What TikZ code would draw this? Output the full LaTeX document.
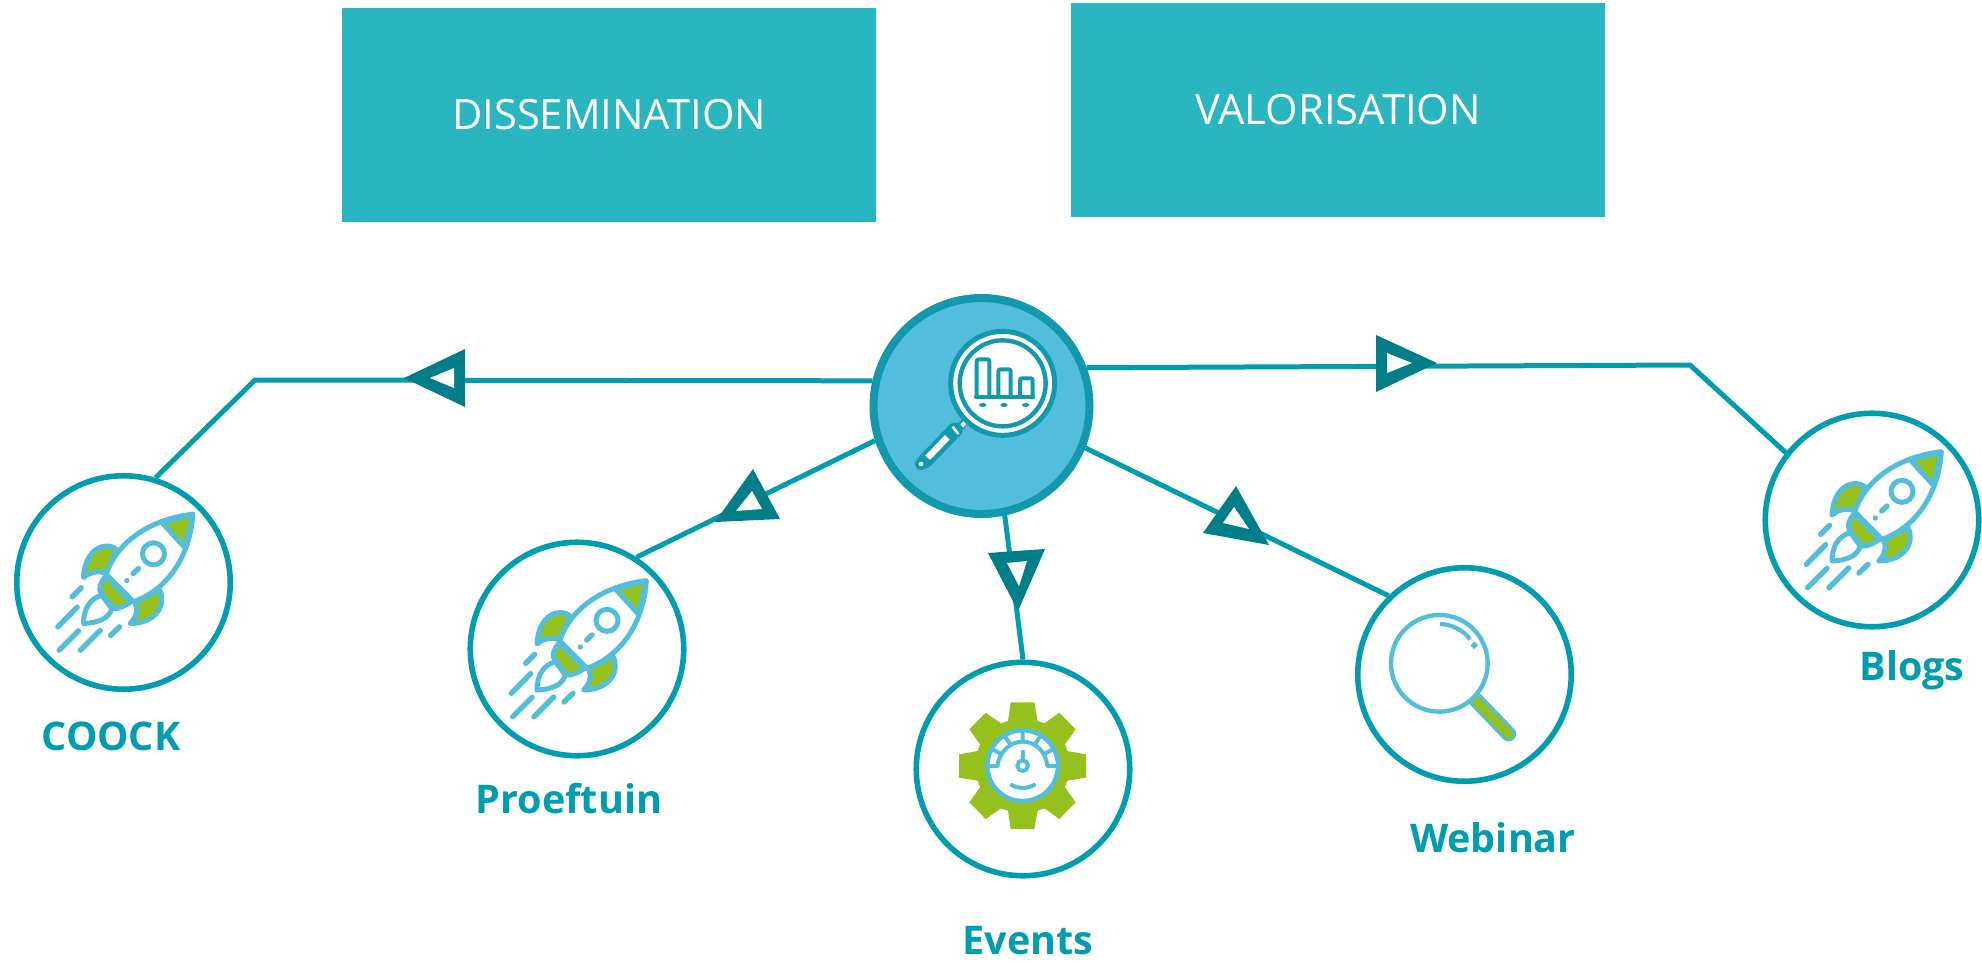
\documentclass[tikz,border=0pt]{standalone}
\usepackage{fontspec}
\setmainfont{Open Sans}
\usetikzlibrary{arrows.meta}
\definecolor{teal1}{HTML}{2AB6C0}
\definecolor{line1}{HTML}{009CAF}
\definecolor{ring}{HTML}{1399AE}
\definecolor{sky}{HTML}{52BEDB}
\definecolor{lime}{HTML}{95C11F}
\definecolor{head}{HTML}{007E8A}
\tikzset{
  x=1pt,y=-1pt,
  topbox/.style={draw=none,fill=teal1,inner sep=0pt,minimum width=534pt,minimum height=214pt},
  toptext/.style={text=white,font=\fontsize{41.7}{46}\selectfont,inner sep=0pt},
  disc/.style={circle,draw=line1,line width=5.6pt,fill=white,minimum size=213.5pt,inner sep=0pt},
  hub/.style={circle,draw=ring,line width=8pt,fill=sky,minimum size=216pt,inner sep=0pt},
  lab/.style={text=line1,font=\fontsize{39.5}{42}\selectfont\bfseries,inner sep=0pt},
  link/.style={draw=line1,line width=5pt},
  tipout/.style={fill=head},
  tipin/.style={fill=white},
  rk/.style={draw=sky,line width=5.4pt,line cap=round,line join=round},
  rkf/.style={draw=sky,fill=lime,line width=5pt,line join=round},
  rkw/.style={draw=sky,fill=white,line width=5pt,line join=round},
  hb/.style={draw=ring,line width=4pt,line join=round,fill=white},
}
\newcommand{\rocket}[2]{%
 \begin{scope}[shift={({#1-123.33},{#2-122.33})},x=0.33333pt,y=-0.33333pt]
  \path[rkf] (350,268) .. controls (320,243) and (255,260) .. (250,352) .. controls (270,335) and (295,330) .. (318,340) -- cycle;
  \path[rkf] (478,390) .. controls (500,430) and (470,490) .. (390,490) .. controls (410,470) and (415,445) .. (403,425) -- cycle;
  \path[rkf] (318,348) -- (393,425) .. controls (375,437) and (355,447) .. (340,445) -- (302,398) .. controls (295,385) and (300,365) .. (318,348) -- cycle;
  \path[rkw] (318,342) .. controls (345,260) and (430,180) .. (578,162) .. controls (570,280) and (510,385) .. (400,425) -- cycle;
  \path[rkf] (486,188) .. controls (515,178) and (545,170) .. (576,164) .. controls (570,200) and (562,232) .. (552,260) -- cycle;
  \path[draw=sky,fill=white,line width=5pt] (460,281) circle[radius=33];
  \fill[sky] (380,361) circle[radius=8];
  \draw[rk,line width=5.4pt] (399,340) -- (415,325);
  \path[rkw] (305,405) .. controls (270,415) and (250,445) .. (250,490) .. controls (290,488) and (325,478) .. (335,445) -- cycle;
  \draw[rk] (216,410) -- (243,383);
  \draw[rk] (173,500) -- (231,441);
  \draw[rk] (177,570) -- (235,512);
  \draw[rk] (241,570) -- (300,511);
  \draw[rk] (331,526) -- (358,500);
 \end{scope}}
\begin{document}
\begin{tikzpicture}
\useasboundingbox (0,0) rectangle (1982,962);
\fill[white] (0,0) rectangle (1982,962);
\node[topbox] (diss) at (608.5,115) {};
\node[topbox] (valo) at (1338,110) {};
\node[toptext] (disst) at (609,115) {DISSEMINATION};
\node[toptext] (valot) at (1338,110) {VALORISATION};

\node[hub] (hub) at (981.5,406) {};
\node[disc] (a) at (123.5,582.5) {};
\node[disc] (b) at (577,649) {};
\node[disc] (c) at (1023,769) {};
\node[disc] (d) at (1464.5,674.5) {};
\node[disc] (e) at (1872,520) {};

\node[lab] (la) at (111,736) {COOCK};
\node[lab] (lb) at (569,799) {Proeftuin};
\node[lab] (lc) at (1028,941) {Events};
\node[lab] (ld) at (1493,838) {Webinar};
\node[lab] (le) at (1912,670) {Blogs};

\coordinate (ka) at (255,380);
\coordinate (ke) at (1690,365);

% connectors
\draw[link] (hub.167) -- (ka) -- (a.73.4);
\draw[link] (hub.20.7) -- (ke) -- (e.142.3);
\draw[link] (hub.198.3) -- (b.57.8);
\draw[link,shorten <=-4pt] (hub.282.3) -- (c.90);
\draw[link] (hub.-22.4) -- (d.134.2);

% arrow heads
\fill[tipout] (404,378) -- (465,349) -- (465,407) -- cycle;
\fill[tipin] (430,378) -- (454,368) -- (454,388) -- cycle;
\fill[tipout] (753,469) -- (780,519) -- (715,522) -- cycle;
\fill[tipin] (752,491) -- (762,509) -- (736,511) -- cycle;
\fill[tipout] (988,553) -- (1045,549) -- (1018,611) -- cycle;
\fill[tipin] (1007,563) -- (1027,561) -- (1019,586) -- cycle;
\fill[tipout] (1236,486) -- (1269,545) -- (1203,533) -- cycle;
\fill[tipin] (1234,507) -- (1249,529) -- (1223,523) -- cycle;
\fill[tipout] (1376,335) -- (1437,363) -- (1376,392) -- cycle;
\fill[tipin] (1387,353) -- (1412,363) -- (1387,373) -- cycle;

% hub icon
\begin{scope}[shift={(860,280)},x=0.33333pt,y=-0.33333pt]
  \draw[ring,line width=15pt,line cap=round] (285,450) -- (195,543);
  \draw[ring,line width=8pt,line cap=round] (335,405) -- (290,450);
  \fill[ring] (183,552) circle[radius=18];
  \fill[white] (183,552) circle[radius=7];
  \draw[white,line width=6.5pt] (262,472) -- (203,533);
  \draw[white,line width=4pt] (320,423) -- (305,438);
  \draw[white,line width=2.5pt] (278,440) -- (295,462);
  \path[draw=ring,line width=5pt,fill=white] (428,310) circle[radius=156];
  \path[draw=ring,line width=4.4pt,fill=white] (428,310) circle[radius=129];
  \path[hb,rounded corners=2pt] (350,350) -- (350,238) -- (388,238) -- (388,350);
  \path[hb,rounded corners=2pt] (415,350) -- (415,268) -- (452,268) -- (452,350);
  \path[hb,rounded corners=2pt] (480,350) -- (480,295) -- (518,295) -- (518,350);
  \draw[ring,line width=4pt,line cap=round] (348,350) -- (520,350);
  \fill[ring] (368,375) ellipse[x radius=11,y radius=6];
  \fill[ring] (432,375) ellipse[x radius=11,y radius=6];
  \fill[ring] (497,375) ellipse[x radius=11,y radius=6];
\end{scope}

\rocket{123.5}{582.5}
\rocket{577}{649}
\rocket{1872}{520}

% gear
\begin{scope}[shift={(910,660)},x=0.33333pt,y=-0.33333pt]
  \fill[lime] (302,127) -- (373,127) -- (383,183) -- (403,190) -- (448,158) -- (497,208) -- (465,253) -- (472,273) -- (528,283) -- (528,353) -- (472,362) -- (465,382) -- (497,427) -- (448,477) -- (403,445) -- (383,452) -- (373,507) -- (302,507) -- (294,452) -- (273,445) -- (227,477) -- (178,427) -- (210,382) -- (203,362) -- (147,353) -- (147,283) -- (203,273) -- (210,253) -- (178,208) -- (227,158) -- (273,190) -- (294,183) -- cycle;
  \path[draw=sky,fill=white,line width=4.4pt] (338,317) circle[radius=106];
  \draw[rk,line width=4pt,line cap=butt] (232,318) -- (262,318) .. controls (268,275) and (300,245) .. (338,245) .. controls (376,245) and (408,275) .. (412,318) -- (443,318);
  \draw[rk,line width=4pt,line cap=butt] (338,212) -- (338,245) (283,226) -- (303,256) (244,266) -- (277,284) (393,226) -- (373,256) (432,266) -- (399,284);
  \path[draw=sky,line width=4pt,fill=white] (338,317) circle[radius=16];
  \draw[rk,line width=4pt] (338,275) -- (338,300);
  \draw[rk,line width=4pt] (305,375) .. controls (325,387) and (350,387) .. (372,375);
\end{scope}

% magnifier
\begin{scope}[shift={(1350,560)},x=0.33333pt,y=-0.33333pt]
  \draw[sky,line width=15pt,line cap=round] (374,416) -- (476,522);
  \draw[lime,line width=9pt,line cap=round] (376,420) -- (476,522);
  \path[draw=sky,fill=white,line width=4.4pt] (268,310) circle[radius=145];
  \draw[sky,line width=4.2pt] (270,192) .. controls (305,193) and (340,210) .. (360,238);
  \fill[sky,rotate around={45:(373,256)}] (365,248) rectangle (381,264);
\end{scope}
\end{tikzpicture}
\end{document}
